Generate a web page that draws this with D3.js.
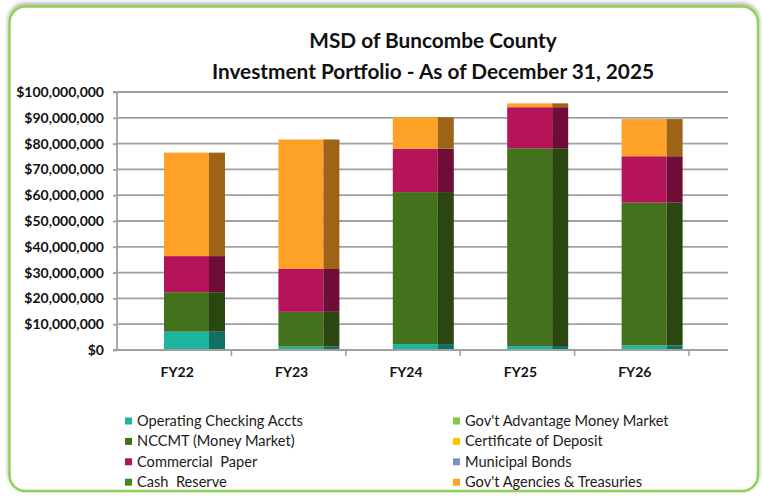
<!DOCTYPE html>
<html><head><meta charset="utf-8">
<script src="https://cdn.jsdelivr.net/npm/d3@7"></script>
<style>body{margin:0;background:#fff}svg{display:block}</style>
</head><body>
<script>
const categories = ["FY22","FY23","FY24","FY25","FY26"];
const seriesNames = ["Operating Checking Accts","Gov't Advantage Money Market","NCCMT (Money Market)","Certificate of Deposit","Commercial  Paper","Municipal Bonds","Cash  Reserve","Gov't Agencies & Treasuries"];
const operatingChecking = [7.1e6, 1.3e6, 2.3e6, 1.55e6, 1.8e6];
const govtAdvantage = [0, 0, 0, 0, 0];
const nccmt = [15.3e6, 13.5e6, 58.9e6, 76.65e6, 55.3e6];
const certificateDeposit = [0, 0, 0, 0, 0];
const commercialPaper = [14.0e6, 16.6e6, 16.8e6, 15.9e6, 18.0e6];
const municipalBonds = [0, 0, 0, 0, 0];
const cashReserve = [0, 0, 0, 0, 0];
const govtAgencies = [40.1e6, 50.2e6, 12.2e6, 1.5e6, 14.4e6];
const yTicks = [0,10e6,20e6,30e6,40e6,50e6,60e6,70e6,80e6,90e6,100e6];
const colors = ["#1db5a0","#7ecb3f","#43711c","#ffc000","#b5135a","#7b8fcb","#4e8522","#fda127"];

const seriesValues = [operatingChecking, govtAdvantage, nccmt, certificateDeposit, commercialPaper, municipalBonds, cashReserve, govtAgencies];
const rows = categories.map((c,i)=>{const r={cat:c}; seriesNames.forEach((s,j)=>r[s]=seriesValues[j][i]); return r;});
const stacked = d3.stack().keys(seriesNames)(rows);

const W=762,H=498;
const svg=d3.select("body").append("svg").attr("width",W).attr("height",H);
const defs=svg.append("defs");
const f=defs.append("filter").attr("id","sh").attr("x","-5%").attr("y","-5%").attr("width","110%").attr("height","110%");
f.append("feDropShadow").attr("dx",0).attr("dy",-2).attr("stdDeviation",2).attr("flood-color","#000").attr("flood-opacity",0.35);

svg.append("rect").attr("x",9.5).attr("y",6.5).attr("width",748.5).attr("height",484.5).attr("rx",16)
  .attr("fill","#fff").attr("stroke","#92d050").attr("stroke-width",2.5).attr("filter","url(#sh)");

const x=d3.scaleBand().domain(categories).range([117,689]);
const y=d3.scaleLinear().domain([0,100e6]).range([350,92]);
const gridRight=728;

// gridlines
svg.append("g").selectAll("line").data(yTicks.filter(t=>t>0)).join("line")
  .attr("x1",117).attr("x2",gridRight).attr("y1",d=>y(d)).attr("y2",d=>y(d))
  .attr("stroke","#a0a0a0").attr("stroke-width",1.8);

// y axis
const yAxis=d3.axisLeft(y).tickValues(yTicks).tickSize(4).tickPadding(9).tickFormat(d=>"$"+d3.format(",")(d));
const gy=svg.append("g").attr("transform","translate(117,0)").call(yAxis);
gy.select(".domain").attr("stroke","#a0a0a0").attr("stroke-width",1.8).attr("d","M-4,92H0V350H-4");
gy.selectAll(".tick line").attr("stroke","#a0a0a0").attr("stroke-width",1.8);
gy.selectAll("text").attr("font-family","Lato").attr("font-weight","bold").attr("font-size",14).attr("fill","#111");

// bars
const bw=x.bandwidth();
const frontOff=47, frontW=45, sideW=16;
const g=svg.append("g");
stacked.forEach((s,j)=>{
  const col=colors[j];
  const c=d3.rgb(col);
  const dark=d3.rgb(c.r*0.62,c.g*0.62,c.b*0.62);
  s.forEach((d,i)=>{
    const h=y(d[0])-y(d[1]);
    if(h<=0) return;
    const x0=x(categories[i])+frontOff;
    g.append("rect").attr("x",x0).attr("y",y(d[1])).attr("width",frontW).attr("height",h).attr("fill",col);
    g.append("rect").attr("x",x0+frontW).attr("y",y(d[1])).attr("width",sideW).attr("height",h).attr("fill",dark);
  });
});

// x axis baseline
svg.append("line").attr("x1",117).attr("x2",gridRight).attr("y1",350).attr("y2",350).attr("stroke","#a0a0a0").attr("stroke-width",1.8);
svg.append("g").selectAll("line").data(categories).join("line")
  .attr("x1",d=>x(d)+bw).attr("x2",d=>x(d)+bw).attr("y1",350).attr("y2",356).attr("stroke","#a0a0a0").attr("stroke-width",1.6);
svg.append("g").selectAll("text").data(categories).join("text")
  .attr("x",d=>x(d)+bw/2+3).attr("y",377).attr("text-anchor","middle")
  .attr("font-family","Lato").attr("font-weight","bold").attr("font-size",14).attr("fill","#111").text(d=>d);

// title
const title=svg.append("text").attr("text-anchor","middle").attr("font-family","Lato").attr("font-weight","bold").attr("font-size",20.8).attr("fill","#111");
title.append("tspan").attr("x",433).attr("y",48).text("MSD of Buncombe County");
title.append("tspan").attr("x",433).attr("y",79).text("Investment Portfolio - As of December 31, 2025");

// legend
const leg=svg.append("g");
seriesNames.forEach((s,j)=>{
  const colIdx=j%2, row=Math.floor(j/2);
  const lx=colIdx===0?125:453, ly=421+row*20.4;
  leg.append("rect").attr("x",lx).attr("y",ly-3.5).attr("width",7).attr("height",7).attr("fill",colors[j]);
  leg.append("text").attr("x",lx+12).attr("y",ly+5).attr("font-family","Lato").attr("font-size",14.6).attr("fill","#1a1a1a").style("white-space","pre").text(s);
});
</script>
</body></html>
